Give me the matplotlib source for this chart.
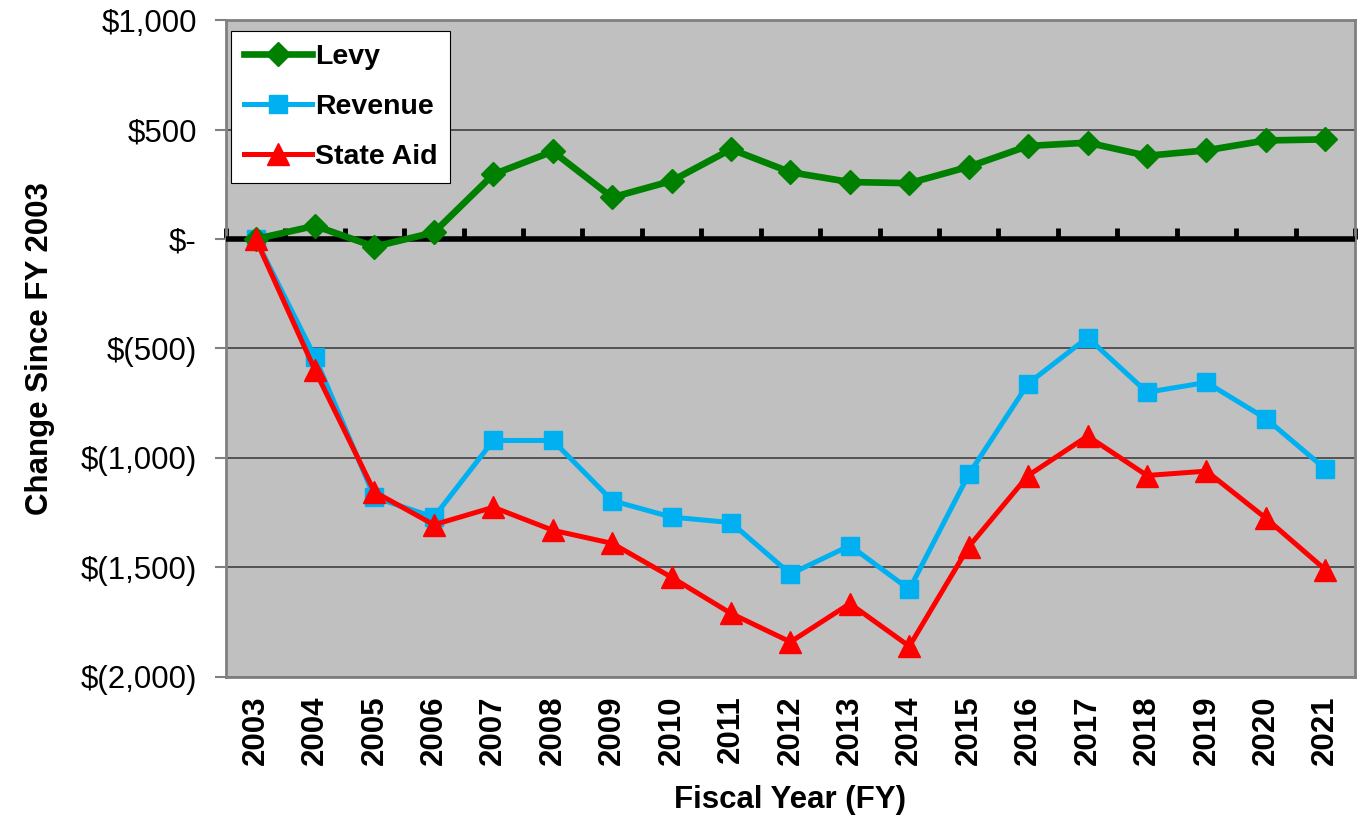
import numpy as np
import matplotlib.pyplot as plt
from matplotlib.ticker import FuncFormatter

plt.rcParams['font.family'] = ['Liberation Sans', 'DejaVu Sans']

years = [2003, 2004, 2005, 2006, 2007, 2008, 2009, 2010, 2011, 2012,
         2013, 2014, 2015, 2016, 2017, 2018, 2019, 2020, 2021]
levy = [0, 60, -35, 30, 295, 400, 190, 265, 410, 305,
        260, 255, 330, 425, 440, 380, 405, 450, 455]
revenue = [0, -540, -1180, -1270, -920, -920, -1195, -1270, -1295, -1530,
           -1400, -1600, -1075, -660, -450, -700, -655, -820, -1050]
state_aid = [0, -600, -1155, -1305, -1225, -1330, -1390, -1545, -1710, -1840,
             -1665, -1860, -1405, -1080, -900, -1080, -1060, -1275, -1510]


def money(v, pos):
    if v == 0:
        return "$-"
    if v < 0:
        return "$({:,.0f})".format(-v)
    return "${:,.0f}".format(v)


fig = plt.figure(figsize=(13.61, 8.17), dpi=100)
ax = fig.add_axes([0.166, 0.1714, 0.8296, 0.8041])
ax.set_facecolor("#C0C0C0")

x = np.arange(len(years))
ax.plot(x, levy, color="#008000", lw=4.8, marker="D", ms=12.5, label="Levy", zorder=5)
ax.plot(x, revenue, color="#00B0F0", lw=3.6, marker="s", ms=13, label="Revenue", zorder=4)
ax.plot(x, state_aid, color="#FF0000", lw=3.6, marker="^", ms=16, label="State Aid", zorder=6)

ax.set_xlim(-0.5, len(years) - 0.5)
ax.set_ylim(-2000, 1000)
ax.set_yticks(np.arange(-2000, 1001, 500))
ax.yaxis.set_major_formatter(FuncFormatter(money))
ax.grid(axis="y", color="#404040", lw=1.2)
ax.set_axisbelow(True)

ax.set_xticks(x)
ax.set_xticklabels([str(y) for y in years], rotation=90, fontsize=22.5, fontweight="bold")
ax.tick_params(axis="x", length=0, pad=13.5)
ax.tick_params(axis="y", labelsize=22.5, length=8, color="#808080", width=1.5, pad=13)

for s in ax.spines.values():
    s.set_color("#808080")
    s.set_linewidth(2)

# zero line with category ticks
ax.axhline(0, color="black", lw=4, zorder=3)
zero = ax.secondary_xaxis(2 / 3)
zero.set_xticks(np.arange(-0.5, len(years), 1.0))
zero.set_xticklabels([])
zero.tick_params(length=8, width=3.5, direction="out", color="black")
zero.spines["bottom"].set_visible(False)
zero.spines["top"].set_visible(False)

ax.set_ylabel("Change Since FY 2003", fontsize=22.5, fontweight="bold", labelpad=18)
ax.set_xlabel("Fiscal Year (FY)", fontsize=22.5, fontweight="bold", labelpad=14)

leg = ax.legend(loc="upper left", bbox_to_anchor=(0.0044, 0.983), borderaxespad=0,
                fancybox=False, edgecolor="black", framealpha=1,
                prop={"size": 20.5, "weight": "bold"},
                handlelength=2.4, handletextpad=0.1, labelspacing=0.84, borderpad=0.45)
leg.get_frame().set_linewidth(0.8)

fig.savefig("out.png", dpi=100)
